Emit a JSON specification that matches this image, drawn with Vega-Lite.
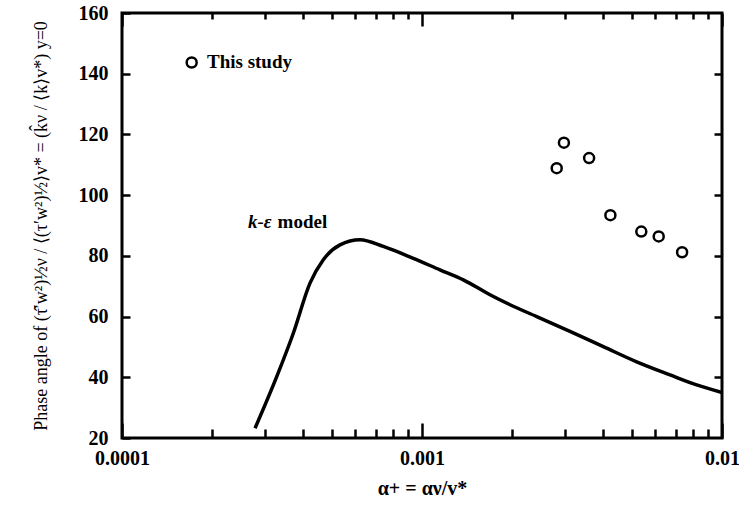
{
  "$schema": "https://vega.github.io/schema/vega-lite/v6.json",
  "width": 600,
  "height": 425,
  "autosize": {"type": "none"},
  "padding": {"left": 122, "top": 13, "right": 17, "bottom": 69},
  "background": "white",
  "config": {
    "view": {"stroke": "black", "strokeWidth": 3},
    "axis": {
      "domain": false, "grid": false, "tickColor": "black", "tickWidth": 2.5, "tickOpacity": 1,
      "labelFont": "Liberation Serif", "labelFontWeight": "bold", "labelFontSize": 20,
      "labelColor": "black", "titleFont": "Liberation Serif", "titleColor": "black",
      "labelFlush": false, "zindex": 1
    }
  },
  "datasets": {
    "curve": [
      {"a": 0.0002776, "v": 23.2}, {"a": 0.0003279, "v": 40.2}, {"a": 0.0003724, "v": 54.5},
      {"a": 0.0004233, "v": 71.0}, {"a": 0.0004688, "v": 78.7}, {"a": 0.000533, "v": 83.6},
      {"a": 0.0006215, "v": 85.3}, {"a": 0.000743, "v": 83.1}, {"a": 0.000935, "v": 79.2},
      {"a": 0.001148, "v": 75.4}, {"a": 0.001373, "v": 72.1}, {"a": 0.001685, "v": 67.2},
      {"a": 0.001965, "v": 63.9}, {"a": 0.002412, "v": 60.0}, {"a": 0.003113, "v": 55.1},
      {"a": 0.004021, "v": 50.1}, {"a": 0.005195, "v": 45.1}, {"a": 0.006709, "v": 40.8},
      {"a": 0.008234, "v": 37.5}, {"a": 0.01, "v": 35.0}
    ],
    "study": [
      {"a": 0.002812, "v": 108.9}, {"a": 0.002972, "v": 117.3}, {"a": 0.003606, "v": 112.2},
      {"a": 0.004246, "v": 93.4}, {"a": 0.005383, "v": 88.0}, {"a": 0.006152, "v": 86.4},
      {"a": 0.007362, "v": 81.2}
    ],
    "model_label_k": [{"a": 0.000263, "v": 91.2, "label": "k-ε"}],
    "model_label_word": [{"a": 0.000330, "v": 91.2, "label": "model"}],
    "legend_text": [{"a": 0.000192, "v": 143.7, "label": "This study"}],
    "legend_symbol": [{"a": 0.0001707, "v": 143.7}]
  },
  "layer": [
    {
      "data": {"name": "curve"},
      "mark": {"type": "line", "color": "black", "strokeWidth": 3.5, "interpolate": "monotone"},
      "encoding": {
        "x": {
          "field": "a", "type": "quantitative",
          "scale": {"type": "log", "domain": [0.0001, 0.01]},
          "axis": {
            "orient": "bottom", "values": [0.0001, 0.001, 0.01], "format": ".4~f",
            "ticks": true, "tickSize": -15, "labelPadding": 25,
            "title": "α+ = αν/v*", "titleFontWeight": "bold", "titleFontSize": 20, "titlePadding": 10
          }
        },
        "y": {
          "field": "v", "type": "quantitative",
          "scale": {"domain": [20, 160], "nice": false},
          "axis": {
            "orient": "left", "values": [20, 40, 60, 80, 100, 120, 140, 160],
            "ticks": true, "tickSize": -8, "labelPadding": 22,
            "title": "Phase angle of (τ̂′w²)½ν / ⟨(τ′w²)½⟩v* = (k̂ν / ⟨k⟩v*) y=0",
            "titleFontWeight": "normal", "titleFontSize": 18, "titlePadding": 28
          }
        }
      }
    },
    {
      "data": {"name": "study"},
      "mark": {"type": "point", "shape": "circle", "filled": false, "color": "black", "opacity": 1, "strokeWidth": 2.5, "size": 100},
      "encoding": {
        "x": {
          "field": "a", "type": "quantitative",
          "axis": {
            "orient": "bottom", "values": [0.0002, 0.0003, 0.0004, 0.0005, 0.0006, 0.0007, 0.0008, 0.0009, 0.002, 0.003, 0.004, 0.005, 0.006, 0.007, 0.008, 0.009],
            "labels": false, "ticks": true, "tickSize": -9, "title": null
          }
        },
        "y": {
          "field": "v", "type": "quantitative",
          "axis": {"orient": "right", "values": [40, 60, 80, 100, 120, 140], "labels": false, "tickSize": -8, "title": null}
        }
      }
    },
    {
      "data": {"name": "model_label_k"},
      "mark": {"type": "text", "align": "left", "baseline": "middle", "font": "Liberation Serif", "fontWeight": "bold", "fontStyle": "italic", "fontSize": 19, "color": "black"},
      "encoding": {
        "x": {
          "field": "a", "type": "quantitative",
          "axis": {"orient": "top", "values": [0.0001, 0.001, 0.01], "labels": false, "tickSize": -13, "title": null}
        },
        "y": {"field": "v", "type": "quantitative", "axis": null},
        "text": {"field": "label"}
      }
    },
    {
      "data": {"name": "model_label_word"},
      "mark": {"type": "text", "align": "left", "baseline": "middle", "font": "Liberation Serif", "fontWeight": "bold", "fontSize": 19, "color": "black"},
      "encoding": {
        "x": {"field": "a", "type": "quantitative", "axis": null},
        "y": {"field": "v", "type": "quantitative", "axis": null},
        "text": {"field": "label"}
      }
    },
    {
      "data": {"name": "legend_text"},
      "mark": {"type": "text", "align": "left", "baseline": "middle", "font": "Liberation Serif", "fontWeight": "bold", "fontSize": 19, "color": "black"},
      "encoding": {
        "x": {
          "field": "a", "type": "quantitative",
          "axis": {
            "orient": "top", "values": [0.0002, 0.0003, 0.0004, 0.0005, 0.0006, 0.0007, 0.0008, 0.0009, 0.002, 0.003, 0.004, 0.005, 0.006, 0.007, 0.008, 0.009],
            "labels": false, "tickSize": -6, "title": null
          }
        },
        "y": {"field": "v", "type": "quantitative", "axis": null},
        "text": {"field": "label"}
      }
    },
    {
      "data": {"name": "legend_symbol"},
      "mark": {"type": "point", "shape": "circle", "filled": false, "color": "black", "opacity": 1, "strokeWidth": 2.5, "size": 100},
      "encoding": {
        "x": {"field": "a", "type": "quantitative", "axis": null},
        "y": {"field": "v", "type": "quantitative", "axis": null}
      }
    }
  ],
  "resolve": {"axis": {"x": "independent", "y": "independent"}}
}
